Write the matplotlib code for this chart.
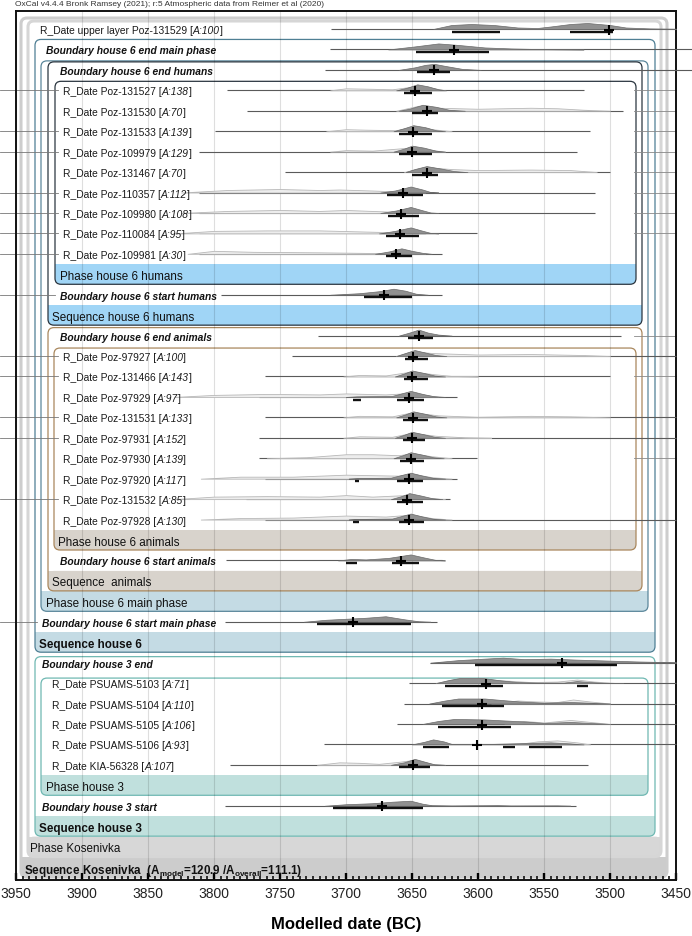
import matplotlib
matplotlib.use("Agg")
import numpy as np
import matplotlib.pyplot as plt
from matplotlib.patches import FancyBboxPatch, Rectangle
from matplotlib.ticker import MultipleLocator
from matplotlib.transforms import IdentityTransform

plt.rcParams['font.family'] = ['Liberation Sans', 'DejaVu Sans']
plt.rcParams['mathtext.fontset'] = 'custom'
plt.rcParams['mathtext.rm'] = 'Liberation Sans:bold'
plt.rcParams['mathtext.bf'] = 'Liberation Sans:bold'

# ---- rows, top to bottom ----
row_names = [
    "R_Date upper layer Poz-131529", "Boundary house 6 end main phase", "Boundary house 6 end humans",
    "R_Date Poz-131527", "R_Date Poz-131530", "R_Date Poz-131533", "R_Date Poz-109979",
    "R_Date Poz-131467", "R_Date Poz-110357", "R_Date Poz-109980", "R_Date Poz-110084",
    "R_Date Poz-109981", "Phase house 6 humans", "Boundary house 6 start humans",
    "Sequence house 6 humans", "Boundary house 6 end animals",
    "R_Date Poz-97927", "R_Date Poz-131466", "R_Date Poz-97929", "R_Date Poz-131531",
    "R_Date Poz-97931", "R_Date Poz-97930", "R_Date Poz-97920", "R_Date Poz-131532",
    "R_Date Poz-97928", "Phase house 6 animals", "Boundary house 6 start animals",
    "Sequence  animals", "Phase house 6 main phase", "Boundary house 6 start main phase",
    "Sequence house 6", "Boundary house 3 end",
    "R_Date PSUAMS-5103", "R_Date PSUAMS-5104", "R_Date PSUAMS-5105", "R_Date PSUAMS-5106",
    "R_Date KIA-56328", "Phase house 3", "Boundary house 3 start", "Sequence house 3",
    "Phase Kosenivka",
    r"Sequence Kosenivka  (A$_{\mathbf{model}}$=120.9 /A$_{\mathbf{overall}}$=111.1)",
]
# R = date, B = boundary, P = band (regular), S = band (bold)
row_kind = "RBBRRRRRRRRRPBPBRRRRRRRRRPBPPBSBRRRRRPBSPS"
agreement = {0: 100, 3: 138, 4: 70, 5: 139, 6: 129, 7: 70, 8: 112, 9: 108, 10: 95, 11: 30,
             16: 100, 17: 143, 18: 97, 19: 133, 20: 152, 21: 139, 22: 117, 23: 85, 24: 130,
             32: 71, 33: 110, 34: 106, 35: 93, 36: 107}

# ---- distributions (years BC, heights in px) ----
dist_rows = [0, 1, 2, 3, 4, 5, 6, 7, 8, 9, 10, 11, 13, 15, 16, 17, 18, 19, 20, 21, 22, 23, 24,
             26, 29, 31, 32, 33, 34, 35, 36, 38]
medians = [3501, 3618, 3633, 3648, 3639, 3649, 3650, 3639, 3657, 3658, 3659, 3662, 3671, 3645,
           3649, 3650, 3652, 3649, 3650, 3651, 3652, 3654, 3652, 3658, 3695, 3536,
           3594, 3597, 3597, 3601, 3649, 3673]
ranges95 = [
    [(3620, 3583), (3530, 3498)], [(3647, 3592)], [(3646, 3621)], [(3656, 3635)],
    [(3650, 3630)], [(3660, 3635)], [(3660, 3635)], [(3650, 3630)], [(3669, 3642)],
    [(3668, 3645)], [(3670, 3645)], [(3670, 3650)], [(3686, 3650)], [(3653, 3634)],
    [(3655, 3638)], [(3656, 3638)], [(3695, 3689), (3661, 3641)], [(3657, 3638)],
    [(3657, 3640)], [(3659, 3641)], [(3693, 3690), (3661, 3642)], [(3661, 3642)],
    [(3695, 3690), (3660, 3641)], [(3700, 3692), (3665, 3645)], [(3722, 3651)],
    [(3602, 3495)], [(3625, 3581), (3525, 3517)], [(3627, 3580)], [(3630, 3575)],
    [(3642, 3622), (3581, 3572), (3561, 3536)], [(3660, 3636)], [(3710, 3642)],
]
line_span = [
    (3711, 3450), (3712, 3438), (3716, 3438), (3790, 3520), (3775, 3490), (3799, 3515),
    (3811, 3525), (3746, 3500), (3811, 3511), (3811, 3511), (3811, 3601), (3811, 3627),
    (3795, 3627), (3721, 3492), (3741, 3450), (3761, 3500), (3766, 3616), (3761, 3450),
    (3766, 3450), (3766, 3601), (3761, 3616), (3776, 3621), (3761, 3450), (3791, 3627),
    (3792, 3631), (3636, 3450), (3652, 3450), (3656, 3450), (3661, 3450), (3717, 3450),
    (3788, 3517), (3792, 3526),
]
posterior = [
    [(3634, 0), (3620, 4), (3605, 5), (3588, 4), (3570, 1.5), (3555, 1), (3545, 2.5), (3530, 5), (3517, 6), (3500, 4), (3488, 1.5), (3470, 0.6), (3450, 0.3)],
    [(3668, 0), (3648, 3), (3630, 6), (3615, 4.5), (3595, 2), (3575, 1), (3550, 0.3), (3520, 0)],
    [(3660, 0), (3648, 2.5), (3640, 5), (3633, 6), (3625, 4), (3612, 1), (3598, 0)],
    [(3662, 0), (3654, 2.5), (3646, 6), (3638, 4), (3630, 1), (3624, 0)],
    [(3660, 0), (3652, 2), (3642, 6), (3632, 4), (3622, 1), (3610, 0)],
    [(3664, 0), (3656, 3), (3649, 6), (3640, 4), (3632, 1), (3625, 0)],
    [(3664, 0), (3656, 3), (3650, 6), (3641, 4), (3632, 1), (3625, 0)],
    [(3655, 0), (3648, 3), (3639, 6), (3628, 3.5), (3618, 1), (3608, 0)],
    [(3674, 0), (3663, 2), (3651, 6), (3642, 3), (3636, 0.5), (3630, 0)],
    [(3674, 0), (3662, 2.5), (3651, 6), (3643, 3), (3636, 0.5), (3630, 0)],
    [(3675, 0), (3663, 2.5), (3651, 6), (3643, 3), (3636, 0.5), (3630, 0)],
    [(3678, 0), (3667, 2.5), (3658, 5.5), (3650, 3), (3642, 1), (3635, 0)],
    [(3712, 0), (3690, 1.5), (3675, 3.5), (3664, 6), (3655, 4), (3647, 1), (3638, 0)],
    [(3660, 0), (3652, 3), (3645, 6), (3638, 3), (3630, 1), (3620, 0)],
    [(3662, 0), (3655, 3), (3648, 6), (3640, 3.5), (3632, 1), (3624, 0)],
    [(3663, 0), (3656, 3), (3650, 6), (3641, 3.5), (3633, 1), (3625, 0)],
    [(3700, 0), (3692, 0.6), (3665, 1), (3651, 6), (3642, 3), (3634, 0.8), (3625, 0)],
    [(3662, 0), (3655, 3), (3649, 6), (3640, 3.5), (3632, 1), (3624, 0)],
    [(3663, 0), (3656, 3), (3650, 6), (3641, 3.5), (3633, 1), (3625, 0)],
    [(3664, 0), (3657, 3), (3651, 6), (3642, 3.5), (3634, 1), (3626, 0)],
    [(3698, 0), (3691, 0.6), (3666, 1), (3651, 6), (3642, 3), (3634, 0.8), (3625, 0)],
    [(3666, 0), (3658, 3), (3652, 6), (3643, 3.5), (3635, 1), (3627, 0)],
    [(3698, 0), (3692, 0.6), (3665, 1), (3651, 6), (3642, 3), (3634, 0.8), (3625, 0)],
    [(3706, 0), (3696, 1.5), (3685, 1), (3668, 2.5), (3651, 6), (3641, 3), (3632, 0.5), (3625, 0)],
    [(3732, 0), (3715, 2), (3700, 3), (3685, 4), (3670, 5.5), (3656, 2.5), (3645, 0.5), (3636, 0)],
    [(3636, 0), (3615, 2.5), (3595, 4), (3581, 5), (3565, 3.5), (3545, 4), (3525, 3), (3500, 2), (3480, 1.2), (3455, 0.5), (3450, 0.3)],
    [(3632, 0), (3622, 3), (3614, 5), (3596, 5), (3585, 3), (3570, 1), (3555, 0.5), (3535, 0.5), (3525, 2), (3515, 1), (3505, 0.3), (3490, 0)],
    [(3637, 0), (3625, 3), (3615, 5), (3595, 5), (3582, 3.5), (3568, 2), (3550, 0.8), (3530, 1.5), (3515, 0.8), (3500, 0)],
    [(3642, 0), (3630, 3), (3618, 5), (3595, 4.5), (3580, 3.5), (3565, 2.5), (3550, 1), (3530, 2), (3515, 1), (3500, 0)],
    [(3650, 0), (3641, 2.5), (3634, 5), (3626, 3), (3620, 0.5), (3590, 0.5), (3575, 1), (3560, 1.5), (3545, 2), (3530, 1), (3520, 0)],
    [(3666, 0), (3656, 2.5), (3648, 6), (3640, 3), (3633, 0.5), (3625, 0)],
    [(3716, 0), (3700, 1.5), (3680, 2.5), (3665, 4), (3651, 5), (3642, 2), (3635, 0.5), (3620, 0.2), (3585, 0.5), (3575, 0.2), (3540, 0.3), (3530, 0)],
]
prior = [
    None, None, None,
    [(3712, 0), (3700, 2), (3680, 1.5), (3665, 1), (3648, 4), (3635, 2.5), (3625, 0)],
    [(3662, 0), (3645, 5), (3630, 3), (3600, 2), (3560, 3), (3540, 2.5), (3520, 1), (3500, 0)],
    [(3715, 0), (3700, 2), (3685, 1.5), (3662, 1), (3648, 5), (3635, 2), (3620, 0)],
    [(3712, 0), (3700, 1.5), (3680, 1), (3652, 4), (3635, 1.5), (3625, 0)],
    [(3656, 0), (3640, 5), (3620, 3), (3600, 2), (3560, 2.5), (3530, 2), (3510, 0)],
    [(3825, 0), (3790, 2.5), (3750, 3.5), (3720, 2.5), (3705, 3), (3680, 2), (3660, 1), (3640, 0)],
    [(3825, 0), (3790, 2), (3750, 3), (3720, 2), (3700, 3), (3670, 1.5), (3640, 0)],
    [(3830, 0), (3800, 2.5), (3760, 3), (3720, 3), (3690, 2), (3660, 1), (3640, 0)],
    [(3820, 0), (3800, 3), (3770, 2), (3720, 1.5), (3690, 1), (3660, 0.5), (3640, 0)],
    None, None,
    [(3662, 0), (3650, 5), (3635, 3), (3600, 1.5), (3560, 2), (3520, 1), (3500, 0)],
    [(3702, 0), (3690, 1.5), (3670, 1), (3650, 5), (3635, 2.5), (3620, 0.5), (3600, 0)],
    [(3830, 0), (3800, 2), (3760, 3), (3720, 2.5), (3700, 3.5), (3670, 2.5), (3650, 4), (3630, 0)],
    [(3702, 0), (3690, 1.5), (3665, 1), (3650, 5), (3630, 2), (3600, 0.5), (3560, 1.5), (3530, 1), (3500, 0)],
    [(3702, 0), (3690, 1.5), (3665, 1), (3650, 5), (3632, 2), (3610, 0.5), (3590, 0)],
    [(3760, 0), (3730, 1), (3700, 4), (3680, 4), (3660, 3), (3650, 5), (3635, 2), (3620, 0)],
    [(3810, 0), (3780, 2), (3740, 2), (3700, 4), (3680, 3.5), (3660, 3), (3650, 5), (3635, 1.5), (3620, 0)],
    [(3830, 0), (3800, 2.5), (3760, 3), (3720, 2.5), (3700, 4), (3680, 2.5), (3655, 4), (3640, 1), (3625, 0)],
    [(3810, 0), (3780, 1.5), (3740, 2), (3700, 4), (3670, 3), (3650, 5), (3635, 1.5), (3620, 0)],
    None, None, None,
    [(3632, 0), (3622, 3), (3614, 5), (3596, 5), (3585, 3), (3560, 1), (3540, 1.5), (3525, 3.5), (3512, 1.5), (3495, 0)],
    [(3590, 0), (3570, 3), (3555, 2), (3540, 1.5), (3528, 4), (3515, 2), (3500, 0)],
    [(3580, 0), (3565, 3), (3550, 1.5), (3530, 4), (3515, 2), (3500, 0)],
    [(3572, 0), (3555, 3), (3540, 4), (3525, 2), (3515, 0)],
    [(3722, 0), (3705, 2.5), (3690, 2), (3675, 1), (3660, 3), (3648, 5), (3635, 1), (3625, 0)],
    None,
]

# ---- layout ----
ROW_PX = 20.44
W, H = 692, 937
label_x = [24, 30, 44] + [47] * 9 + [44, 44, 36, 44] + [47] * 9 + [42, 44, 36, 30, 26, 23, 26] + \
          [36] * 5 + [30, 26, 23, 14, 8]
# (first row, band row, left px, right px, top pad px, edge, band fill, lw)
boxes = [
    (0, 41, 21, 667, 11, '#cdcdcd', '#cccccc', 2.2),
    (0, 40, 28, 661, 8, '#d6d6d6', '#d7d7d7', 2.2),
    (1, 30, 35, 655, 10, '#4f7f94', '#c4dbe4', 0.9),
    (2, 28, 41, 648, 9, '#5b879b', '#c4dbe4', 0.9),
    (2, 14, 48, 642, 8, '#2b3640', '#a0d5f6', 0.9),
    (3, 12, 55, 636, 9, '#2b3640', '#a0d5f6', 0.9),
    (15, 27, 48, 642, 8, '#a9875d', '#d8d3cc', 0.9),
    (16, 25, 54, 636, 8, '#a9875d', '#d8d3cc', 0.9),
    (31, 39, 35, 655, 6, '#6fb8b2', '#c0e0dd', 0.9),
    (32, 37, 41, 648, 5, '#6fb8b2', '#c0e0dd', 0.9),
]
left_stub_rows = [3, 5, 6, 8, 9, 10, 11, 13, 16, 17, 19, 20, 23, 29]
right_stub_rows = [3, 4, 5, 6, 7, 8, 9, 10, 15, 16, 17, 19, 20, 21, 24]

fig = plt.figure(figsize=(W / 100, H / 100), dpi=100)
ax = fig.add_axes([16 / W, 1 - 881 / H, 660 / W, 869 / H])
ax.set_xlim(3950, 3450)
ax.set_ylim((881 - 30) / ROW_PX, (12 - 30) / ROW_PX)
renderer = fig.canvas.get_renderer()
ident = IdentityTransform()


def ydisp(r):
    return ax.transData.transform((3700, r))[1]


x_ax0 = ax.transAxes.transform((0, 0))[0]

# boxes and bands (kept under the axis so ticks and grid stay visible)
for first, band, left, right, pad, edge, fill, lw in boxes:
    top = ydisp(first) + pad
    yb = ydisp(band)
    ax.add_patch(FancyBboxPatch((left, yb - 10), right - left, 20,
                                boxstyle='round,pad=0,rounding_size=6', fc=fill, ec='none',
                                transform=ident, clip_on=False, zorder=0.8))
    ax.add_patch(Rectangle((left, yb), right - left, 10, fc=fill, ec='none',
                           transform=ident, clip_on=False, zorder=0.8))
    ax.add_patch(FancyBboxPatch((left, yb - 10), right - left, top - (yb - 10),
                                boxstyle='round,pad=0,rounding_size=6', fc='none', ec=edge, lw=lw,
                                transform=ident, clip_on=False, zorder=1.0))

# stubs
for r in left_stub_rows:
    y = ydisp(r)
    ax.plot([0, x_ax0 + label_x[r] - 5], [y, y], color='#777777', lw=0.6,
            transform=ident, clip_on=False, zorder=2.2)
for r in right_stub_rows:
    y = ydisp(r)
    ax.plot([634, 676], [y, y], color='#888888', lw=0.6,
            transform=ident, clip_on=False, zorder=2.2)

# distributions
for i, r in enumerate(dist_rows):
    x0, x1 = line_span[i]
    ax.plot([x0, x1], [r, r], color='#5a5a5a', lw=0.8, zorder=3, clip_on=False,
            solid_capstyle='butt')
    if prior[i] is not None:
        px = np.array([p[0] for p in prior[i]], float)
        ph = np.array([p[1] for p in prior[i]], float) / ROW_PX
        ax.fill_between(px, r, r - ph, fc='#ededed', ec='#b8b8b8', lw=0.6, zorder=3.2)
    qx = np.array([p[0] for p in posterior[i]], float)
    qh = np.array([p[1] for p in posterior[i]], float) / ROW_PX
    ax.fill_between(qx, r, r - qh, fc='#909090', ec='#6a6a6a', lw=0.5, zorder=3.4)
    for a, b in ranges95[i]:
        ax.plot([a, b], [r + 2.6 / ROW_PX] * 2, color='#111111', lw=1.7, zorder=3.6,
                solid_capstyle='butt')
    ax.plot(medians[i], r + 0.6 / ROW_PX, marker='+', ms=7, mew=1.5, color='black', zorder=3.8)

# labels
for r, name in enumerate(row_names):
    x = x_ax0 + label_x[r]
    y = ydisp(r)
    k = row_kind[r]
    if k == 'R':
        parts = [(name + " [", 'normal'), ("A:%d" % agreement[r], 'italic'), ("]", 'normal')]
        for s, st in parts:
            t = ax.text(x, y, s, transform=ident, fontsize=7.4, style=st, va='center_baseline',
                        ha='left', color='#1a1a1a', zorder=5, clip_on=False)
            x = t.get_window_extent(renderer).x1
    elif k == 'B':
        ax.text(x, y, name, transform=ident, fontsize=7.4, style='italic', weight='bold',
                va='center_baseline', ha='left', color='#111111', zorder=5, clip_on=False)
    else:
        ax.text(x, y, name, transform=ident, fontsize=8.4,
                weight='bold' if k == 'S' else 'normal',
                va='center_baseline', ha='left', color='#111111', zorder=5, clip_on=False)

# axis
ax.xaxis.set_major_locator(MultipleLocator(50))
ax.xaxis.set_minor_locator(MultipleLocator(5))
ax.set_axisbelow('line')
ax.grid(axis='x', which='major', color='#000000', alpha=0.13, lw=0.8)
ax.tick_params(axis='x', which='major', direction='in', length=5, width=1.7, labelsize=10,
               pad=4, color='#000000', labelcolor='#222222')
ax.tick_params(axis='x', which='minor', direction='in', length=2.7, width=1.2, color='#111111')
ax.tick_params(axis='y', left=False, labelleft=False)
for s in ax.spines.values():
    s.set_linewidth(1.4)
    s.set_color('#111111')
ax.set_xlabel('Modelled date (BC)', fontsize=12, fontweight='bold', labelpad=12)

fig.text(15 / W, 1 - 5 / H, "OxCal v4.4.4 Bronk Ramsey (2021); r:5 Atmospheric data from Reimer et al (2020)",
         fontsize=6, va='center', ha='left', color='#333333')

fig.savefig('out.png', dpi=100)
